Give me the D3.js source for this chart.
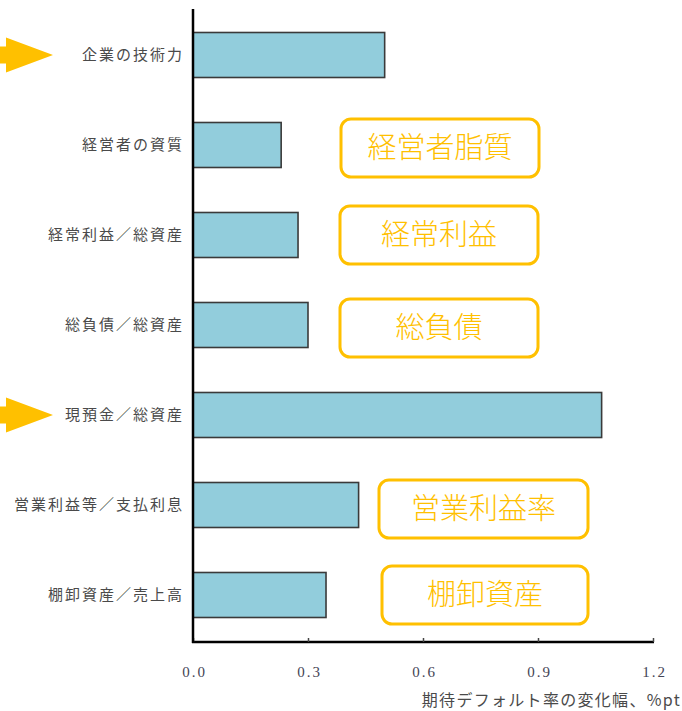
<!DOCTYPE html>
<html lang="ja">
<head>
<meta charset="utf-8">
<script src="https://cdn.jsdelivr.net/npm/d3@7"></script>
<style>
  html, body { margin: 0; padding: 0; background: #fff; }
  svg { display: block; }
</style>
</head>
<body>
<svg id="chart" width="682" height="711"></svg>
<script>
// Factors and the change in expected default rate (%pt)
const categories = [
  "企業の技術力",
  "経営者の資質",
  "経常利益／総資産",
  "総負債／総資産",
  "現預金／総資産",
  "営業利益等／支払利息",
  "棚卸資産／売上高"
];
const values = [0.50, 0.23, 0.274, 0.30, 1.066, 0.432, 0.347];
const tickValues = [0.0, 0.3, 0.6, 0.9, 1.2];
const axisTitle = "期待デフォルト率の変化幅、%pt";

// Highlighted factors (arrows) and callout boxes
const arrowCategories = ["企業の技術力", "現預金／総資産"];
const calloutCategories = ["経営者の資質", "経常利益／総資産", "総負債／総資産", "営業利益等／支払利息", "棚卸資産／売上高"];
const calloutTexts = ["経営者脂質", "経常利益", "総負債", "営業利益率", "棚卸資産"];

const ORANGE = "#FFC000";
const svg = d3.select("#chart");

const x = d3.scaleLinear().domain([0, 1.2]).range([193, 653]);
const y = d3.scaleBand().domain(categories).range([10, 640])
  .paddingInner(0.5).paddingOuter(0.25);

// bars
svg.append("g").selectAll("rect")
  .data(categories)
  .join("rect")
  .attr("x", x(0))
  .attr("y", d => y(d))
  .attr("width", (d, i) => x(values[i]) - x(0))
  .attr("height", y.bandwidth())
  .attr("fill", "#92CDDC")
  .attr("stroke", "#3a3a3a")
  .attr("stroke-width", 1.6);

// x axis
const xAxis = svg.append("g")
  .attr("transform", "translate(0,642)")
  .call(d3.axisBottom(x).tickValues(tickValues).tickFormat(d3.format(".1f"))
    .tickSize(4).tickSizeOuter(0));
xAxis.select(".domain").attr("stroke", "#000").attr("stroke-width", 2.5)
  .attr("d", `M${x(0) - 1},0H${x(1.2) + 1}`);
xAxis.selectAll(".tick line").attr("stroke", "#444").attr("stroke-width", 1.5)
  .attr("y1", -4).attr("y2", 0);
xAxis.selectAll(".tick text")
  .attr("y", 24)
  .attr("dx", "1px")
  .attr("fill", "#445")
  .style("font-family", "'Liberation Serif', 'DejaVu Serif', serif")
  .style("font-size", "15px")
  .style("letter-spacing", "2px");

// y axis line (labels drawn separately)
svg.append("line")
  .attr("x1", x(0)).attr("x2", x(0))
  .attr("y1", 9).attr("y2", 643)
  .attr("stroke", "#000").attr("stroke-width", 2.5);

svg.append("g").selectAll("text")
  .data(categories)
  .join("text")
  .attr("x", 184)
  .attr("y", d => y(d) + y.bandwidth() / 2)
  .attr("dy", "0.36em")
  .attr("text-anchor", "end")
  .attr("fill", "#4a4a4a")
  .style("font-family", "'Noto Sans CJK JP', sans-serif")
  .style("font-size", "15px")
  .style("letter-spacing", "2px")
  .text(d => d);

// axis title
svg.append("text")
  .attr("x", 681).attr("y", 706)
  .attr("text-anchor", "end")
  .attr("fill", "#4a4a4a")
  .style("font-family", "'Noto Sans CJK JP', sans-serif")
  .style("font-size", "16px")
  .style("letter-spacing", "1.3px")
  .text(axisTitle);

// arrows pointing at highlighted factors
svg.append("g").selectAll("path")
  .data(arrowCategories)
  .join("path")
  .attr("fill", ORANGE)
  .attr("d", d => {
    const c = y(d) + y.bandwidth() / 2;
    return `M0,${c - 8.5}H6V${c - 17.5}L53,${c}L6,${c + 17.5}V${c + 8.5}H0Z`;
  });

// callout boxes
const boxLayout = [
  { x: 341, w: 198, dy: 3 },
  { x: 340, w: 198, dy: 0 },
  { x: 340, w: 198, dy: 3 },
  { x: 379, w: 209, dy: 4 },
  { x: 382, w: 206, dy: 0 }
];
const callouts = svg.append("g").selectAll("g")
  .data(calloutCategories)
  .join("g")
  .attr("transform", (d, i) => `translate(${boxLayout[i].x},${y(d) + y.bandwidth() / 2 + boxLayout[i].dy})`);
callouts.append("rect")
  .attr("x", 0).attr("y", -29)
  .attr("width", (d, i) => boxLayout[i].w).attr("height", 58)
  .attr("rx", 10).attr("ry", 10)
  .attr("fill", "#fff")
  .attr("stroke", ORANGE)
  .attr("stroke-width", 3);
callouts.append("text")
  .attr("x", (d, i) => boxLayout[i].w / 2)
  .attr("y", 0)
  .attr("dy", "0.36em")
  .attr("text-anchor", "middle")
  .attr("fill", ORANGE)
  .style("font-family", "'Noto Sans CJK JP', sans-serif")
  .style("font-size", "29px")
  .style("font-weight", "300")
  .text((d, i) => calloutTexts[i]);
</script>
</body>
</html>
